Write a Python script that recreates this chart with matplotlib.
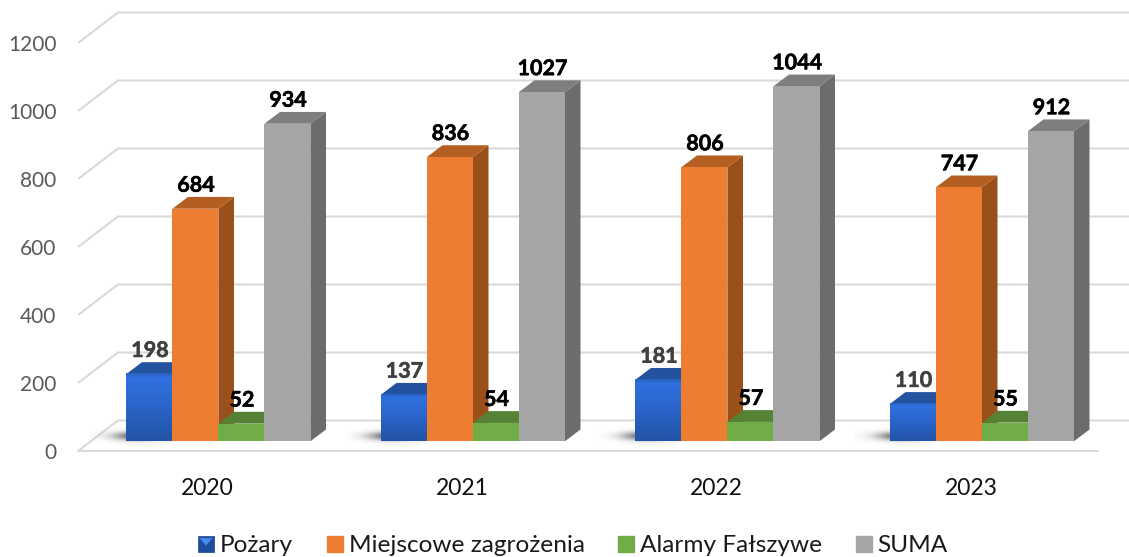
import numpy as np
import matplotlib
matplotlib.use('Agg')
import matplotlib.pyplot as plt
import matplotlib.patheffects as pe
from matplotlib.colors import LinearSegmentedColormap
from matplotlib.legend_handler import HandlerBase
from matplotlib.patches import Patch, Polygon, Rectangle

plt.rcParams['font.family'] = ['Lato', 'DejaVu Sans']

years = ['2020', '2021', '2022', '2023']
pozary = [198, 137, 181, 110]
miejscowe = [684, 836, 806, 747]
alarmy = [52, 54, 57, 55]
suma = [934, 1027, 1044, 912]
names = ['Pożary', 'Miejscowe zagrożenia', 'Alarmy Fałszywe', 'SUMA']
yticks = [0, 200, 400, 600, 800, 1000, 1200]

# front, top, side
orange = ('#ED7D31', '#B55E22', '#9C5019')
green = ('#70AD47', '#568235', '#4F7A31')
gray = ('#A5A5A5', '#7E7E7E', '#6C6C6C')
blue = ('#2E6BD6', '#23529E', '#1D4587')

# pixel scales of the picture
px_x = 254.5
px_y = 0.34
x_left = (78 - 207.5) / px_x
x_right = (1098 - 207.5) / px_x
bar_w = 46.0 / px_x
plane_x = 10.9 / px_x
plane_y = 9.7 / px_y
depth_x = 15.6 / px_x
depth_y = 11.8 / px_y
wall_x = 40 / px_x
wall_y = 30.5 / px_y

blue_map = LinearSegmentedColormap.from_list(
    'blue_bar', [(0, '#2A62C2'), (0.07, '#2F70E0'), (0.45, '#2B66CC'), (1, '#2253A6')])


class BevelHandler(HandlerBase):
    def create_artists(self, legend, orig_handle, xdescent, ydescent, width, height, fontsize, trans):
        box = Rectangle((-xdescent, -ydescent), width, height, facecolor='#1F4E9E',
                        edgecolor='#1D4587', linewidth=0.5, transform=trans)
        tri = Polygon([[-xdescent + 0.1 * width, -ydescent + 0.85 * height],
                       [-xdescent + 0.9 * width, -ydescent + 0.85 * height],
                       [-xdescent + 0.5 * width, -ydescent + 0.4 * height]],
                      facecolor='#4C8BEE', edgecolor='none', transform=trans)
        return [box, tri]


def draw_bar(ax, x, v, colors, z):
    left = x + plane_x - bar_w / 2
    right = left + bar_w
    base = plane_y
    top = base + v
    ax.fill([right, right + depth_x, right + depth_x, right],
            [base, base + depth_y, top + depth_y, top], color=colors[2], lw=0, zorder=z, clip_on=False)
    ax.fill([left, left + depth_x, right + depth_x, right],
            [top, top + depth_y, top + depth_y, top], color=colors[1], lw=0, zorder=z, clip_on=False)
    ax.bar(left, v, bar_w, bottom=base, align='edge', color=colors[0], lw=0, zorder=z, clip_on=False)


def draw_blue(ax, x, v, z):
    left = x + plane_x - bar_w / 2
    draw_bar(ax, x, v, blue, z)
    ax.imshow(np.linspace(0, 1, 80)[:, None], extent=(left, left + bar_w, plane_y, plane_y + v),
              cmap=blue_map, aspect='auto', zorder=z + 0.1, clip_on=False)
    # soft shadow on the floor
    xs, ys = np.meshgrid(np.linspace(-1, 1, 120), np.linspace(-1, 1, 40))
    shade = np.zeros((40, 120, 4))
    shade[..., 0:3] = 0.25
    shade[..., 3] = 0.85 * np.exp(-(xs / 0.5) ** 2 - (ys / 0.5) ** 2)
    ax.imshow(shade, extent=(left - 36 / px_x, left + 60 / px_x, plane_y - 4 / px_y, plane_y + 14 / px_y),
              aspect='auto', zorder=1.5, clip_on=False)


fig = plt.figure(figsize=(11.29, 5.57), dpi=100)
ax = fig.add_axes([78 / 1129, (557 - 451) / 557, 1020 / 1129, 451 / 557])

for v in yticks:
    ax.plot([x_left, x_left + wall_x, x_right + wall_x], [v, v + wall_y, v + wall_y],
            color='#D9D9D9', lw=1.5, zorder=1, clip_on=False, solid_capstyle='butt')
ax.plot([x_left, x_right], [0, 0], color='#D9D9D9', lw=1.5, zorder=1, clip_on=False)

series = [pozary, miejscowe, alarmy, suma]
styles = [blue, orange, green, gray]
label_colors = ['#404040', 'black', 'black', 'black']
for i in range(len(years)):
    for k in range(4):
        x = i + (k - 1.5) * bar_w
        v = series[k][i]
        z = 2 + k
        if k == 0:
            draw_blue(ax, x, v, z)
        else:
            draw_bar(ax, x, v, styles[k], z)
        lab = ax.annotate(str(v), (x + plane_x, v + plane_y), xytext=(0.4, 23.5 * 0.72), textcoords='offset points',
                          ha='center', va='center', fontsize=15.5, fontweight='bold',
                          color=label_colors[k], zorder=10)
        lab.set_path_effects([pe.withStroke(linewidth=0.4, foreground=label_colors[k])])

ax.set_xlim(x_left, x_right)
ax.set_ylim(0, 451 / px_y)
ax.set_xticks(range(len(years)), years)
ax.set_yticks(yticks)
ax.tick_params(axis='x', length=0, pad=19.5, labelsize=16.5, labelcolor='#111111')
ax.tick_params(axis='y', length=0, pad=15.5, labelsize=15, labelcolor='#595959')
for s in ax.spines.values():
    s.set_visible(False)
ax.patch.set_visible(False)

handles = [Patch(), Patch(color=orange[0]), Patch(color=green[0]), Patch(color=gray[0])]
fig.legend(handles, names, handler_map={handles[0]: BevelHandler()}, ncols=4, frameon=False,
           loc='center', bbox_to_anchor=(573 / 1129, 1 - 546 / 557), fontsize=17.6, labelcolor='#1a1a1a',
           handlelength=0.65, handleheight=0.65, handletextpad=0.25, columnspacing=1.37)

fig.savefig('out.png', dpi=100)
